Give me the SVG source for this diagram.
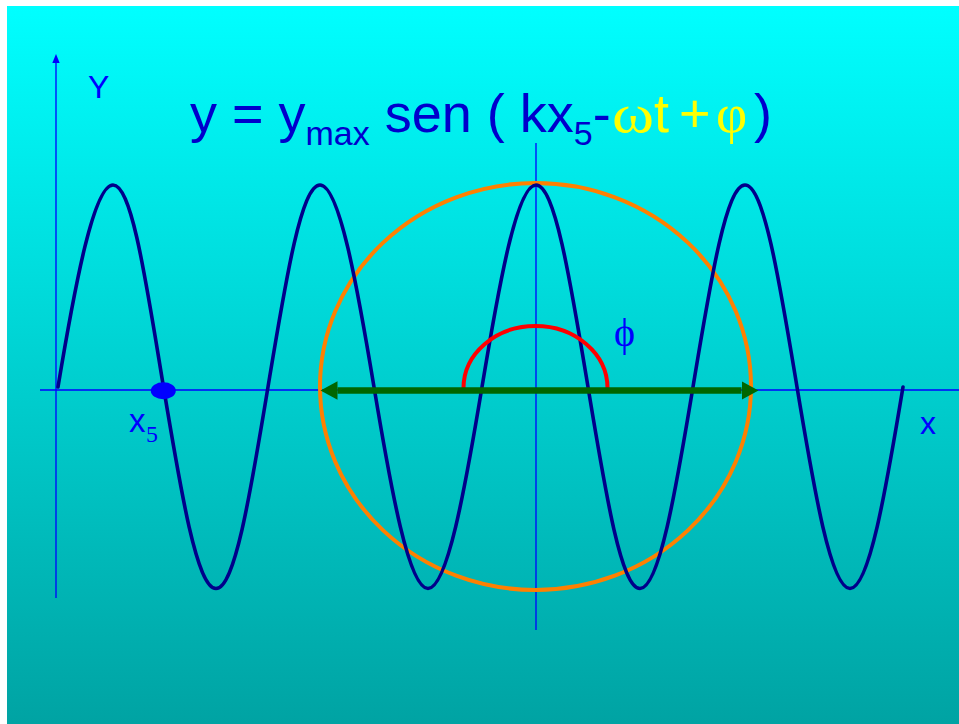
<svg xmlns="http://www.w3.org/2000/svg" width="959" height="724" viewBox="0 0 959 724">
  <defs>
    <linearGradient id="bg" x1="0" y1="0" x2="0" y2="1">
      <stop offset="0" stop-color="#00FFFF"/>
      <stop offset="1" stop-color="#00A3A3"/>
    </linearGradient>
    <marker id="blueHead" markerUnits="userSpaceOnUse" markerWidth="10" markerHeight="10" viewBox="0 -5 9 10" refX="0" refY="0" orient="auto">
      <path d="M0,-3.7 L9,0 L0,3.7 z" fill="#0000FF"/>
    </marker>
    <marker id="greenHead" markerUnits="userSpaceOnUse" markerWidth="18" markerHeight="20" viewBox="0 -10 18 20" refX="0" refY="0" orient="auto-start-reverse">
      <path d="M0,-9.2 L17,0 L0,9.2 z" fill="#006600"/>
    </marker>
    <style>
      .axis { stroke: #0000FF; stroke-width: 1.3; fill: none; }
      .wave { stroke: #00008A; stroke-width: 3.6; fill: none; stroke-linecap: round; stroke-linejoin: round; }
      .sans { font-family: "Liberation Sans", Arial, sans-serif; }
      .serif { font-family: "Liberation Serif", "Times New Roman", serif; }
      .f { font-size: 54px; fill: #0000CC; }
      .yel { fill: #FFFF00; }
      .lab { fill: #0000FF; }
    </style>
  </defs>

  <rect x="0" y="0" width="959" height="724" fill="#FFFFFF"/>
  <rect x="7" y="6" width="952" height="718" fill="url(#bg)"/>

  <g id="axes">
    <line class="axis" x1="40" y1="390" x2="959" y2="390"/>
    <line class="axis" x1="56" y1="598" x2="56" y2="63" marker-end="url(#blueHead)"/>
    <line class="axis" x1="536" y1="143" x2="536" y2="630"/>
  </g>

  <g id="circle">
    <ellipse cx="535.5" cy="386.5" rx="215.5" ry="203.5" fill="none" stroke="#FF8000" stroke-width="4"/>
  </g>

  <g id="wave">
    <path class="wave" d="M58,387 C75.2,283.5 93.9,185 113,185 S146.3,283.5 163.5,387 S196.9,588.5 216,588.5 S250.8,490.5 268,387 S300.9,185 320,185 S356.8,283.5 374,387 S408.9,588.5 428,588.5 S464.8,490.5 482,387 S516.9,185 536,185 S570.8,283.5 588,387 S620.9,588.5 640,588.5 S675.8,490.5 693,387 S725.9,185 745,185 S779.8,283.5 797,387 S830.9,588.5 850,588.5 S885.8,490.5 903,387"/>
  </g>

  <g id="phase-arc">
    <path d="M463.5,388 A72,62 0 0 1 607.5,388" fill="none" stroke="#FF0000" stroke-width="4"/>
  </g>

  <g id="connectors">
    <line x1="337.5" y1="390.5" x2="741.5" y2="390.5" stroke="#006600" stroke-width="6.5" marker-start="url(#greenHead)" marker-end="url(#greenHead)"/>
  </g>

  <g id="point-x5">
    <ellipse cx="163.3" cy="390.7" rx="12.5" ry="8.5" fill="#0000FF"/>
    <text class="sans lab" x="129" y="432" font-size="33">x</text>
    <text class="serif lab" x="146" y="441.5" font-size="24">5</text>
  </g>

  <g id="labels">
    <text class="sans lab" x="88" y="98" font-size="32">Y</text>
    <text class="sans lab" x="920" y="434" font-size="32">x</text>
    <text class="serif lab" x="614" y="346" font-size="40">ϕ</text>
  </g>

  <g id="formula">
    <text class="sans f" x="190" y="131.5">y = y<tspan font-size="34" dy="13">max</tspan><tspan dy="-13"> sen ( kx</tspan><tspan font-size="34" dy="13">5</tspan><tspan dy="-13">-</tspan></text>
    <text class="serif f yel" x="612" y="131.5" textLength="42" lengthAdjust="spacingAndGlyphs">ω</text>
    <text class="sans f yel" x="654" y="131.5">t</text>
    <text class="sans f yel" x="679" y="131.5">+</text>
    <text class="serif f yel" x="716" y="131.5">φ</text>
    <text class="sans f" x="754" y="131.5">)</text>
  </g>
</svg>
